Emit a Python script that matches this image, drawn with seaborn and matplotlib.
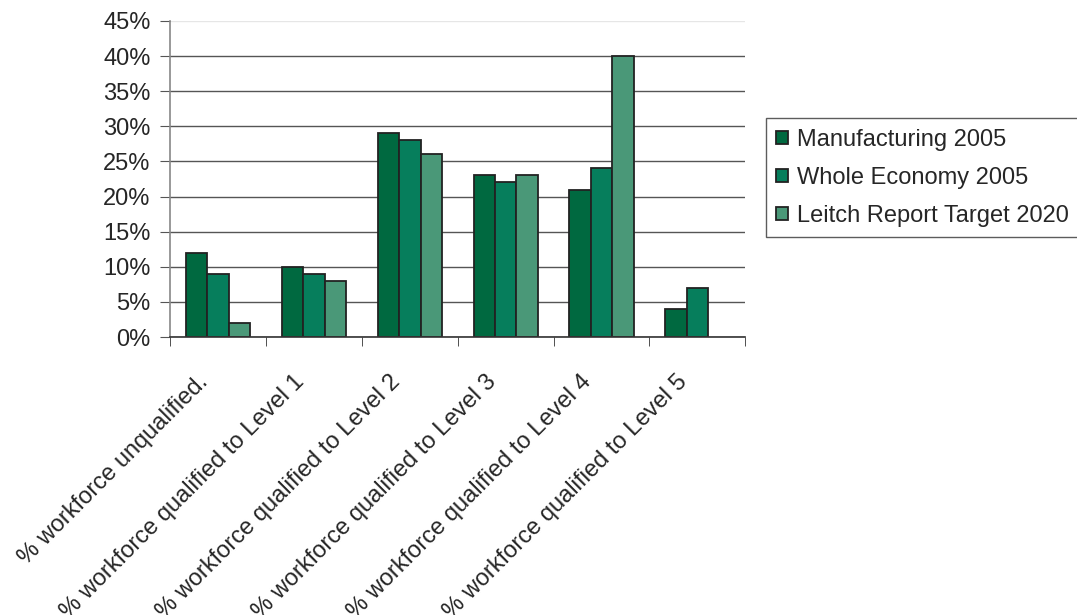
import numpy as np
import pandas as pd
import seaborn as sns
import matplotlib.pyplot as plt
import matplotlib.transforms as mtransforms
from matplotlib.ticker import FixedLocator, FuncFormatter

# data (percent of workforce)
categories = [
    "% workforce unqualified.",
    "% workforce qualified to Level 1",
    "% workforce qualified to Level 2",
    "% workforce qualified to Level 3",
    "% workforce qualified to Level 4",
    "% workforce qualified to Level 5",
]
series_names = ["Manufacturing 2005", "Whole Economy 2005", "Leitch Report Target 2020"]
manufacturing_2005 = [12, 10, 29, 23, 21, 4]
whole_economy_2005 = [9, 9, 28, 22, 24, 7]
leitch_target_2020 = [2, 8, 26, 23, 40, np.nan]

df = pd.DataFrame({
    "category": categories * 3,
    "series": [s for s in series_names for _ in categories],
    "value": manufacturing_2005 + whole_economy_2005 + leitch_target_2020,
})

colors = {"Manufacturing 2005": "#006940",
          "Whole Economy 2005": "#067E5C",
          "Leitch Report Target 2020": "#4A9878"}

sns.set_style("white")
plt.rcParams["font.family"] = ["Liberation Sans", "DejaVu Sans"]

fig = plt.figure(figsize=(10.77, 6.15), dpi=100)
ax = fig.add_axes([0.158, 0.452, 0.534, 0.514])

sns.barplot(data=df, x="category", y="value", hue="series", order=categories,
            hue_order=series_names, palette=colors, width=0.67,
            edgecolor="#222222", linewidth=1.3, saturation=1, ax=ax)

ax.set_ylim(0, 45)
ax.set_xlim(-0.5, len(categories) - 0.5)
ax.yaxis.set_major_locator(FixedLocator(np.arange(0, 46, 5)))
ax.yaxis.set_major_formatter(FuncFormatter(lambda v, p: f"{v:.0f}%"))
ax.set_axisbelow(True)
ax.yaxis.grid(True, color="#555555", linewidth=1.0)
gl = ax.get_ygridlines()
gl[-1].set_color("#e6e6e6")

for side in ["top", "right"]:
    ax.spines[side].set_visible(False)
ax.spines["left"].set_color("#888888")
ax.spines["bottom"].set_color("#333333")
ax.spines["left"].set_linewidth(1.2)
ax.spines["bottom"].set_linewidth(1.2)

ax.set_xlabel("")
ax.set_ylabel("")
ax.tick_params(axis="y", left=True, length=7, color="#555555", labelsize=17, pad=7)
ax.tick_params(axis="x", which="major", length=0, labelsize=17, pad=8)
ax.set_xticks(np.arange(-0.5, len(categories), 1), minor=True)
ax.tick_params(axis="x", which="minor", bottom=True, length=6.5, color="#333333")

# rotated labels, pushed further down-left along their own direction
shift = mtransforms.ScaledTranslation(-0.21, -0.23, fig.dpi_scale_trans)
for lbl in ax.get_xticklabels():
    lbl.set_rotation(45)
    lbl.set_ha("right")
    lbl.set_rotation_mode("anchor")
    lbl.set_transform(lbl.get_transform() + shift)

handles, labels = ax.get_legend_handles_labels()
ax.legend(handles, labels, loc="upper left", bbox_to_anchor=(0.711, 0.808),
          bbox_transform=fig.transFigure, fontsize=17, frameon=True, fancybox=False,
          edgecolor="#333333", handlelength=0.5, handleheight=0.5, handletextpad=0.38,
          labelspacing=0.68, borderpad=0.45, borderaxespad=0)
ax.get_legend().get_frame().set_linewidth(1.0)

plt.savefig("out.png", dpi=100)
